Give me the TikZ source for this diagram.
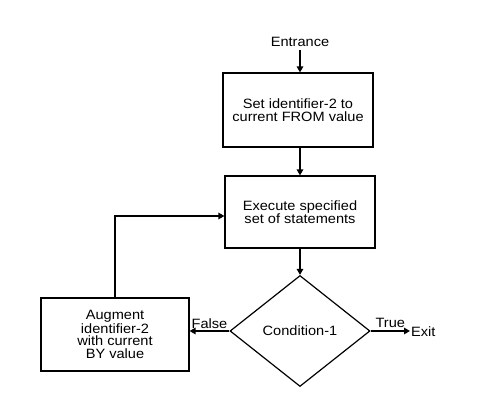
\documentclass[tikz,border=0pt]{standalone}
\usepackage{fontspec}
\setmainfont{Liberation Sans}[FakeStretch=1.08]
\usetikzlibrary{shapes.geometric,arrows.meta}
\begin{document}
\begin{tikzpicture}[x=1pt,y=-1pt]

    \tikzset{
      box/.style={
        draw,
        line width=1.2pt,
        align=center,
        inner sep=0pt,
        font=\fontsize{13.5}{12.5}\selectfont,
      },
      decision/.style={
        draw,
        diamond,
        line width=1.2pt,
        inner sep=0pt,
        minimum width=140pt,
        minimum height=111pt,
        font=\fontsize{13.5}{12.5}\selectfont,
      },
      flow/.style={
        line width=2.6pt,
        -{Triangle[length=6pt,width=6.5pt]},
      },
      label/.style={
        font=\fontsize{13.5}{12.5}\selectfont,
        inner sep=1pt,
      },
    }
    \useasboundingbox (0,0) rectangle (480,406);

	\node[label] (entr) at (300,42) {Entrance};
	\node[box, minimum width=150pt, minimum height=74pt] (setid) at (298,110) {Set identifier-2 to\\current FROM value};
	\node[box, minimum width=150pt, minimum height=72pt] (exec) at (300,212) {Execute specified\\set of statements};
	\node[decision] (cond) at (300,331) {Condition-1};
	\node[box, minimum width=148pt, minimum height=73pt] (augm) at (115,334.5) {Augment\\identifier-2\\with current\\BY value};
	\node[label, anchor=west] (exit) at (410,332) {Exit};

	\draw[flow] ([yshift=-2pt]entr.south) -- (entr.south |- setid.north);
	\draw[flow] (exec.north |- setid.south) -- (exec.north);
	\draw[flow] (exec.south) -- (cond.north);
	\draw[flow] (cond.west) -- node[label, above] {False} (cond.west -| augm.east);
	\draw[flow] (cond.east) -- node[label, above=1pt] {True} (cond.east -| exit.west);
	\draw[flow, line width=2pt] (augm.north) |- ([yshift=-4pt]exec.west);

\end{tikzpicture}
\end{document}
